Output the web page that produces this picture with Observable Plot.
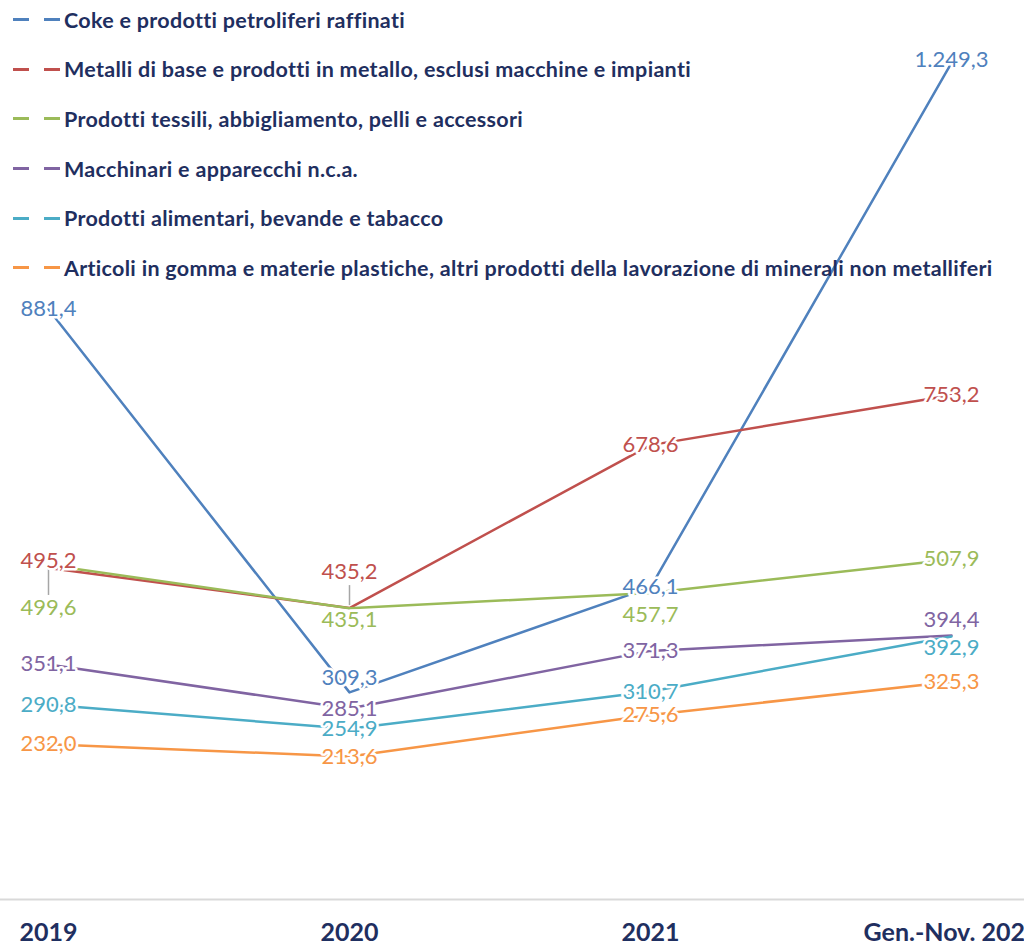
<!DOCTYPE html>
<html><head><meta charset="utf-8">
<script src="https://cdn.jsdelivr.net/npm/d3@7"></script>
<script src="https://cdn.jsdelivr.net/npm/@observablehq/plot@0.6"></script>
<style>
body{margin:0;background:#fff;}
#wrap{position:relative;width:1024px;height:947px;overflow:hidden;}
#legend{position:absolute;left:0;top:-5px;font-family:Lato,"Open Sans",sans-serif;font-weight:700;font-size:21.5px;letter-spacing:0.3px;color:#1f2f60;}
.row{height:49.6px;display:flex;align-items:center;white-space:nowrap;}
.sw{display:inline-block;width:16px;height:3px;margin-left:13px;}
.sw2{display:inline-block;width:16px;height:3px;margin-left:15px;margin-right:4px;}
</style></head>
<body>
<div id="wrap"><div id="chart"></div><div id="legend"></div></div>
<script>
const years = ["2019", "2020", "2021", "Gen.-Nov. 2022"];
const seriesNames = [
  "Coke e prodotti petroliferi raffinati",
  "Metalli di base e prodotti in metallo, esclusi macchine e impianti",
  "Prodotti tessili, abbigliamento, pelli e accessori",
  "Macchinari e apparecchi n.c.a.",
  "Prodotti alimentari, bevande e tabacco",
  "Articoli in gomma e materie plastiche, altri prodotti della lavorazione di minerali non metalliferi"
];
const coke       = [881.4, 309.3, 466.1, 1249.3];
const metalli    = [495.2, 435.2, 678.6, 753.2];
const tessili    = [499.6, 435.1, 457.7, 507.9];
const macchinari = [351.1, 285.1, 371.3, 394.4];
const alimentari = [290.8, 254.9, 310.7, 392.9];
const articoli   = [232.0, 213.6, 275.6, 325.3];
const colors = ["#4F81BD", "#C0504D", "#9BBB59", "#8064A2", "#4BACC6", "#F79646"];

// label nudges (px), styling only
const labelNudge = [
  [0, -14, 0, -3],
  [-7, -36, 0, 0],
  [43, 12, 22, 0],
  [0, 0, 0, -15],
  [0, 0, 0, 12],
  [0, 0, 0, 0]
];

const H = 947, mTop = 62, mBottom = 48;
const yDomain = [0, 1250];
const yScale = Plot.scale({y: {domain: yDomain, range: [H - mBottom, mTop]}});

const allSeries = [coke, metalli, tessili, macchinari, alimentari, articoli];
const data = [];
allSeries.forEach((vals, s) => vals.forEach((v, i) => {
  const nudge = labelNudge[s][i];
  data.push({
    series: seriesNames[s], year: years[i], value: v, nudge,
    labelY: yScale.invert(yScale.apply(v) + nudge)
  });
}));

const leaders = data.filter(d => Math.abs(d.nudge) > 30).map(d => {
  const py = yScale.apply(d.value);
  const ly = py + d.nudge;
  const sgn = Math.sign(d.nudge);
  return {year: d.year, y1: yScale.invert(py + sgn * 3), y2: yScale.invert(ly - sgn * 13)};
});

const fmt = v => v.toLocaleString("it-IT", {minimumFractionDigits: 1, maximumFractionDigits: 1});

const plot = Plot.plot({
  width: 1024, height: H,
  marginTop: mTop, marginBottom: mBottom, marginLeft: 47, marginRight: 73,
  style: {background: "transparent"},
  x: {type: "point", domain: years, padding: 0, label: null},
  y: {domain: yDomain, axis: null},
  color: {domain: seriesNames, range: colors},
  marks: [
    Plot.ruleY([0], {stroke: "#d9d9d9", strokeWidth: 2, insetLeft: -47, insetRight: -73}),
    Plot.axisX({tickSize: 0, tickPadding: 24, fontSize: 25, fontWeight: 700,
      fontFamily: "Lato, sans-serif", fill: "#1f2f60", label: null}),
    Plot.lineY(data, {x: "year", y: "value", z: "series", stroke: "series", strokeWidth: 2.5}),
    Plot.link(leaders, {x1: "year", x2: "year", y1: "y1", y2: "y2", stroke: "#a6a6a6", strokeWidth: 1.5}),
    Plot.text(data, {x: "year", y: "labelY", text: d => fmt(d.value),
      fill: "series", fontSize: 22, fontFamily: "Lato, sans-serif", stroke: "white", strokeWidth: 5, paintOrder: "stroke"})
  ]
});
document.getElementById("chart").appendChild(plot);

const legend = document.getElementById("legend");
seriesNames.forEach((n, i) => {
  const row = document.createElement("div");
  row.className = "row";
  row.innerHTML = `<span class="sw" style="background:${colors[i]}"></span><span class="sw2" style="background:${colors[i]}"></span><span>${n}</span>`;
  legend.appendChild(row);
});
</script>
</body></html>
